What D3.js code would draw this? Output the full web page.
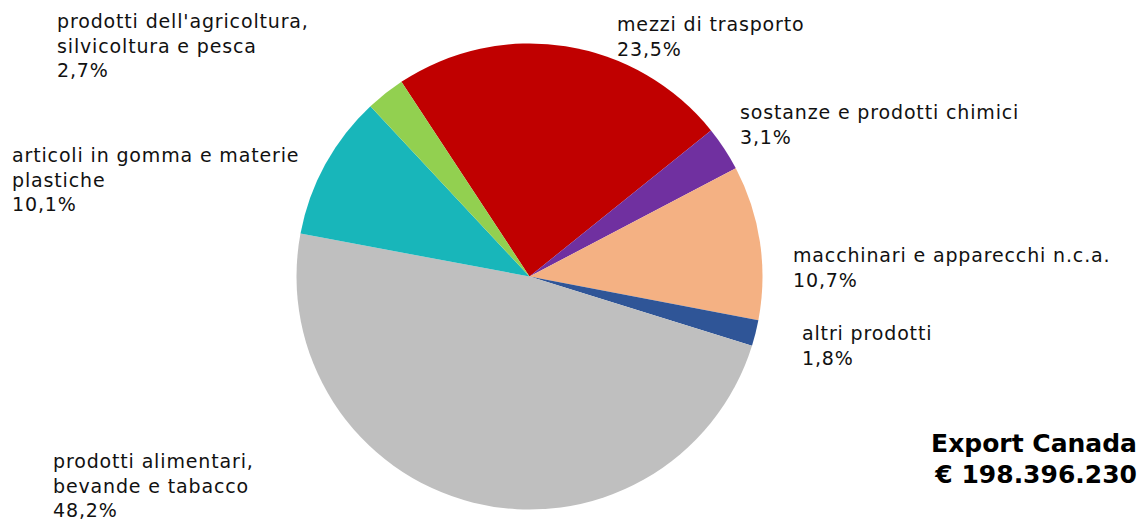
<!DOCTYPE html>
<html>
<head>
<meta charset="utf-8">
<script src="https://cdn.jsdelivr.net/npm/d3@7"></script>
<style>
  body { margin: 0; background: #fff; }
  svg { display: block; }
</style>
</head>
<body>
<div id="chart"></div>
<script>
// sectors in clockwise order, starting from the red slice
var categories = [
  ["mezzi di trasporto"],
  ["sostanze e prodotti chimici"],
  ["macchinari e apparecchi n.c.a."],
  ["altri prodotti"],
  ["prodotti alimentari,", "bevande e tabacco"],
  ["articoli in gomma e materie", "plastiche"],
  ["prodotti dell'agricoltura,", "silvicoltura e pesca"]
];
var shares = [23.5, 3.1, 10.7, 1.8, 48.2, 10.1, 2.7];
var shareLabels = ["23,5%", "3,1%", "10,7%", "1,8%", "48,2%", "10,1%", "2,7%"];
var colors = ["#C00000", "#7030A0", "#F4B183", "#2F5597", "#BFBFBF", "#18B6BA", "#92D050"];
var titleLines = ["Export Canada", "€ 198.396.230"];

// label anchors (left edge, first baseline)
var labelPos = [
  [617, 31], [740, 119], [793, 262], [802, 340],
  [53, 468], [12, 162], [57, 28]
];

var width = 1147, height = 520;
var cx = 529.5, cy = 276.5, radius = 233;
var start = -33.35 * Math.PI / 180;

var svg = d3.select("#chart").append("svg")
  .attr("width", width)
  .attr("height", height);

var pie = d3.pie()
  .sort(null)
  .value(d => d)
  .startAngle(start)
  .endAngle(start + 2 * Math.PI);

var arc = d3.arc()
  .innerRadius(0)
  .outerRadius(radius);

var data = pie(shares);

svg.append("g")
  .attr("transform", `translate(${cx},${cy})`)
  .selectAll("path")
  .data(data)
  .join("path")
  .attr("fill", (d, i) => colors[i])
  .attr("d", arc);

var labels = svg.append("g")
  .style("font-family", "'DejaVu Sans', Verdana, sans-serif")
  .style("font-size", "19px")
  .style("letter-spacing", "0.85px")
  .attr("fill", "#111");

labels.selectAll("text")
  .data(categories)
  .join("text")
  .attr("x", (d, i) => labelPos[i][0])
  .attr("y", (d, i) => labelPos[i][1])
  .each(function(d, i) {
    var t = d3.select(this);
    var lines = d.concat([shareLabels[i]]);
    lines.forEach((s, j) => {
      t.append("tspan")
        .attr("x", labelPos[i][0])
        .attr("dy", j === 0 ? 0 : 24.7)
        .text(s);
    });
  });

svg.append("g")
  .selectAll("text")
  .data(titleLines)
  .join("text")
  .attr("x", 1137)
  .attr("y", (d, i) => 451.5 + i * 31)
  .attr("text-anchor", "end")
  .style("font-family", "'DejaVu Sans', Verdana, sans-serif")
  .style("font-weight", "bold")
  .style("font-size", "25px")
  .attr("fill", "#000")
  .text(d => d);
</script>
</body>
</html>
